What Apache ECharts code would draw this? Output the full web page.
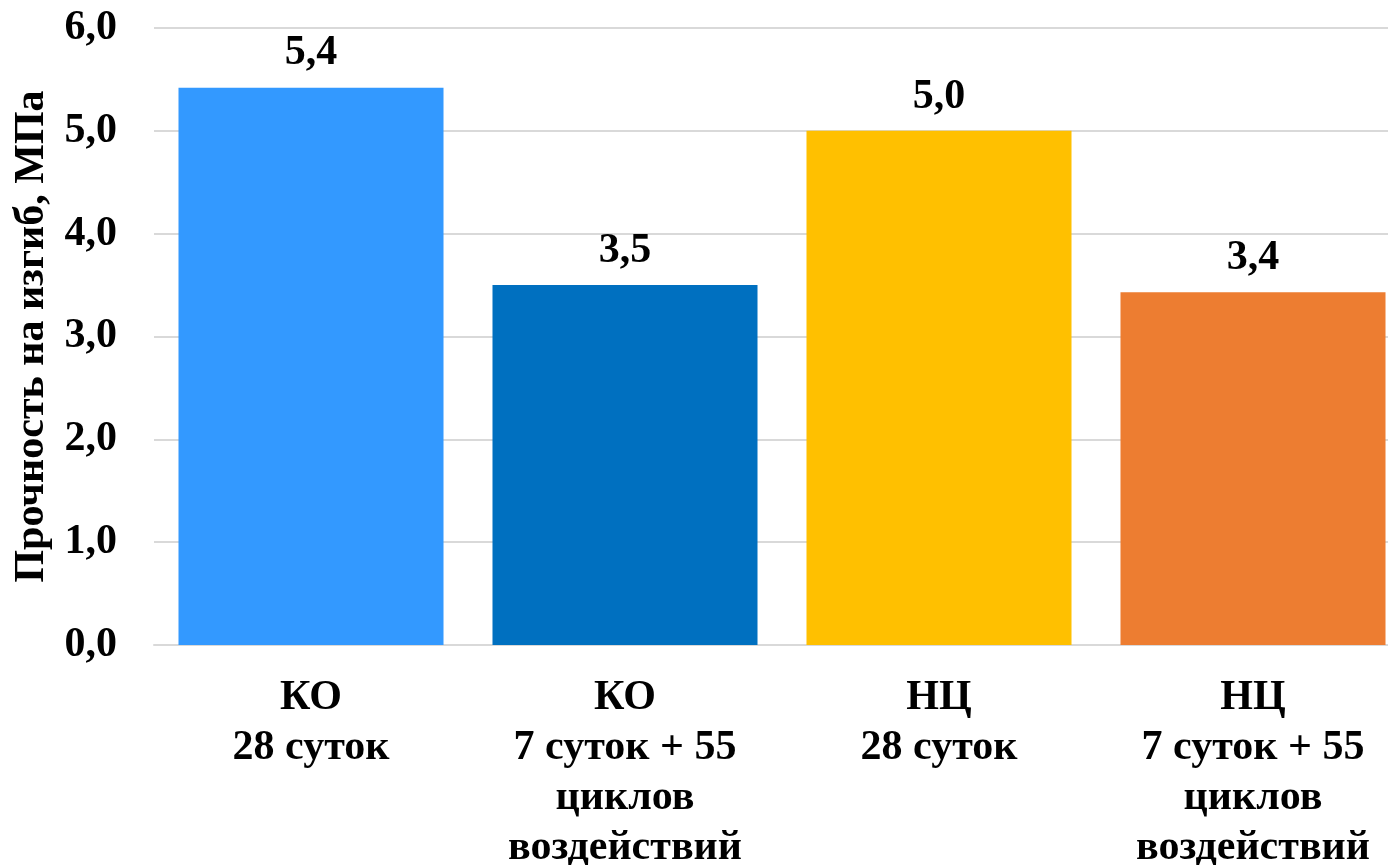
<!DOCTYPE html>
<html>
<head>
<meta charset="utf-8"/>
<title>Прочность на изгиб</title>
<script src="https://cdn.jsdelivr.net/npm/echarts@6/dist/echarts.min.js"></script>
<style>
html,body{margin:0;padding:0;background:#fff;}
#main{width:1388px;height:865px;}
</style>
</head>
<body>
<div id="main"></div>
<script>
// данные с графика
var categories = ['КО\n28 суток', 'КО\n7 суток + 55\nциклов\nвоздействий', 'НЦ\n28 суток', 'НЦ\n7 суток + 55\nциклов\nвоздействий'];
var values = [5.42, 3.5, 5.0, 3.43];
var colors = ['#3399FF', '#0070C0', '#FFC000', '#ED7D31'];
var yTicks = [0, 1, 2, 3, 4, 5, 6];

var font = '"Liberation Serif", "Times New Roman", serif';

function fmt(v){
    return v.toFixed(1).replace('.', ',');
}

var myChart = echarts.init(document.getElementById('main'));

var barData = [];
for (var i = 0; i < values.length; i++) {
    barData.push({value: values[i], itemStyle: {color: colors[i]}});
}

var option = {
    animation: false,
    grid: {left: 154, width: 1256, top: 28, height: 617, containLabel: false, outerBoundsMode: 'none'},
    xAxis: {
        type: 'category',
        data: categories,
        axisTick: {show: false},
        axisLine: {lineStyle: {color: '#D9D9D9', width: 2}},
        axisLabel: {
            interval: 0,
            margin: 28,
            color: '#000',
            fontFamily: font,
            fontWeight: 'bold',
            fontSize: 42,
            lineHeight: 50
        }
    },
    yAxis: {
        type: 'value',
        min: yTicks[0],
        max: yTicks[yTicks.length - 1],
        interval: 1,
        name: 'Прочность на изгиб, МПа',
        nameLocation: 'middle',
        nameGap: 100,
        nameRotate: 90,
        nameTextStyle: {
            color: '#000',
            fontFamily: font,
            fontWeight: 'bold',
            fontSize: 42
        },
        axisLine: {show: false},
        axisTick: {show: false},
        splitLine: {lineStyle: {color: '#D9D9D9', width: 2}},
        axisLabel: {
            margin: 37,
            color: '#000',
            fontFamily: font,
            fontWeight: 'bold',
            fontSize: 42,
            formatter: function(v){ return fmt(v); }
        }
    },
    series: [{
        type: 'bar',
        data: barData,
        barWidth: '84.4%',
        label: {
            show: true,
            position: 'top',
            distance: 13,
            color: '#000',
            fontFamily: font,
            fontWeight: 'bold',
            fontSize: 42,
            formatter: function(p){ return fmt(p.value); }
        }
    }]
};

myChart.setOption(option);
</script>
</body>
</html>
